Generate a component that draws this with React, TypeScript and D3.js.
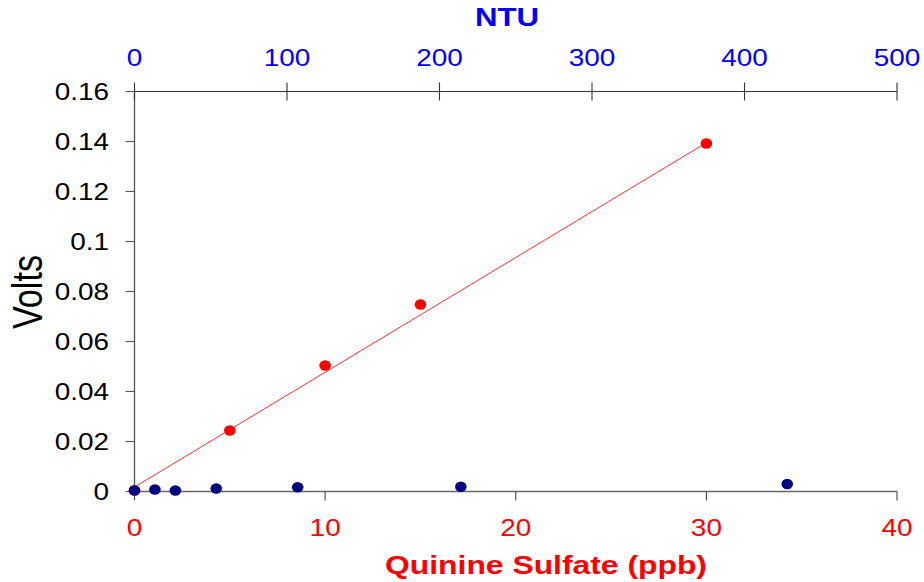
import React from "react";
import * as d3 from "d3";

const voltTicks = [0, 0.02, 0.04, 0.06, 0.08, 0.1, 0.12, 0.14, 0.16];
const ppbTicks = [0, 10, 20, 30, 40];
const ntuTicks = [0, 100, 200, 300, 400, 500];

const quinineX = [0, 5, 10, 15, 30];
const quinineY = [0.0005, 0.0244, 0.0504, 0.0748, 0.1392];

const ntuX = [0, 13.4, 26.8, 53.6, 107, 214, 428];
const ntuY = [0.0004, 0.0008, 0.0004, 0.0012, 0.0017, 0.0019, 0.003];

const trendX = [0, 30];
const trendY = [0.0018, 0.1395];

const W = 924;
const H = 582;
const SX = 1.3;
const SY = 1.07;
const FONT = "'Liberation Sans', Arial, sans-serif";

function T({ x, y, size, fill, anchor = "middle", bold = false, rotate = 0, children }: any) {
  return (
    <text
      transform={`translate(${x},${y}) scale(${SX},${SY})${rotate ? ` rotate(${rotate})` : ""}`}
      fontFamily={FONT}
      fontSize={size}
      fill={fill}
      textAnchor={anchor}
      fontWeight={bold ? "bold" : "normal"}
    >
      {children}
    </text>
  );
}

export default function App() {
  const x = d3.scaleLinear().domain([0, 40]).range([134.5, 897]);
  const xTop = d3.scaleLinear().domain([0, 500]).range([134.5, 897]);
  const y = d3.scaleLinear().domain([0, 0.16]).range([491.5, 91.5]);

  const line = d3
    .line<number>()
    .x((_, i) => x(trendX[i]))
    .y((d) => y(d));

  const tickSize = 21.5;

  return (
    <div style={{ position: "absolute", left: 0, top: 0 }}>
      <svg width={W} height={H} style={{ display: "block", background: "#fff" }}>
        {/* left axis */}
        <line x1={x(0)} x2={x(0)} y1={y(0.16)} y2={y(0)} stroke="#555" strokeWidth={1.3} />
        {voltTicks.map((t) => (
          <g key={"yt" + t}>
            <line x1={x(0) - 9} x2={x(0)} y1={y(t)} y2={y(t)} stroke="#555" strokeWidth={1.1} />
            <T x={109} y={y(t) + 8} size={tickSize} fill="#000" anchor="end">
              {String(t)}
            </T>
          </g>
        ))}
        {/* bottom axis */}
        <line x1={x(0)} x2={x(40)} y1={y(0)} y2={y(0)} stroke="#666" strokeWidth={1.3} />
        {ppbTicks.map((t) => (
          <g key={"xb" + t}>
            <line x1={x(t)} x2={x(t)} y1={y(0)} y2={y(0) + 9} stroke="#444" strokeWidth={1.1} />
            <T x={x(t)} y={535.5} size={tickSize} fill="#ff0000">
              {String(t)}
            </T>
          </g>
        ))}
        {/* top axis */}
        <line x1={x(0)} x2={x(40)} y1={y(0.16)} y2={y(0.16)} stroke="#333" strokeWidth={1.2} />
        {ntuTicks.map((t) => (
          <g key={"xt" + t}>
            <line x1={xTop(t)} x2={xTop(t)} y1={y(0.16) - 9} y2={y(0.16) + 9} stroke="#333" strokeWidth={1.1} />
            <T x={xTop(t)} y={65.5} size={tickSize} fill="#0000ff">
              {String(t)}
            </T>
          </g>
        ))}
        {/* titles */}
        <T x={507} y={26} size={24} fill="#0000ff" bold>
          NTU
        </T>
        <T x={546} y={574} size={24.5} fill="#ff0000" bold>
          Quinine Sulfate (ppb)
        </T>
        <T x={42} y={292} size={32} fill="#000" rotate={-90}>
          Volts
        </T>
        {/* trendline */}
        <path d={line(trendY) || ""} fill="none" stroke="#ff3030" strokeWidth={1} />
        {/* quinine points */}
        {quinineX.map((v, i) => (
          <ellipse key={"q" + i} cx={x(v)} cy={y(quinineY[i])} rx={5.8} ry={5.2} fill="#ff0000" />
        ))}
        {/* NTU points */}
        {ntuX.map((v, i) => (
          <ellipse key={"n" + i} cx={xTop(v)} cy={y(ntuY[i])} rx={5.8} ry={5.2} fill="#000080" />
        ))}
      </svg>
    </div>
  );
}
